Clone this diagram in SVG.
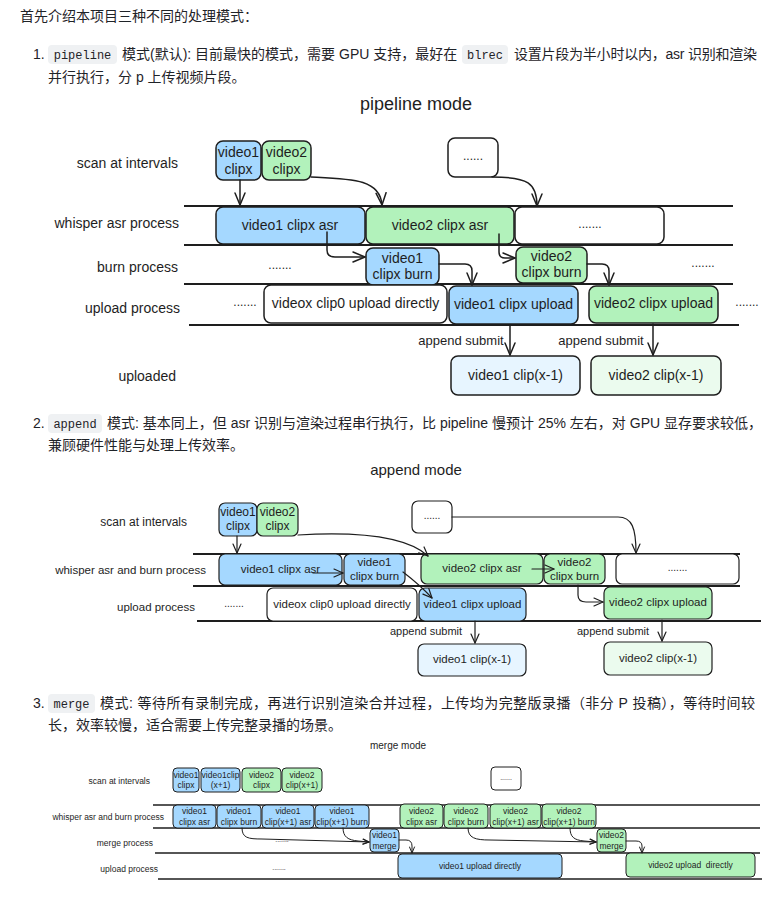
<svg xmlns="http://www.w3.org/2000/svg" width="781" height="898" viewBox="0 0 781 898">
<defs>
<style>
.body{font-family:"Liberation Sans","Noto Sans CJK SC",sans-serif;font-size:14px;fill:#1f2328}
.code{font-family:"Liberation Mono",monospace;font-size:12px;fill:#1f2328;text-anchor:middle}
.pill{fill:#eff1f3}
.t{font-family:"Liberation Sans",sans-serif;fill:#1e1e1e;text-anchor:middle;dominant-baseline:central}
.lbl{text-anchor:end}
.fp{font-size:14px}.fa{font-size:11.5px}.fm{font-size:8.5px}
.dots{font-size:12px}
.blue{fill:#a5d8ff}.green{fill:#b2f2bb}.white{fill:#fff}.lblue{fill:#e7f5ff}.lgreen{fill:#ebfbee}
.bp{stroke:#1e1e1e;stroke-width:1.5}.ba{stroke:#1e1e1e;stroke-width:1.2}.bm{stroke:#1e1e1e;stroke-width:1}
.lane{stroke:#1e1e1e;stroke-width:2;fill:none}.lanem{stroke:#1e1e1e;stroke-width:1.3;fill:none}
.c{fill:none;stroke:#1e1e1e;stroke-width:1.5;stroke-linecap:round}
.ca{fill:none;stroke:#1e1e1e;stroke-width:1.2;stroke-linecap:round}
.cm{fill:none;stroke:#1e1e1e;stroke-width:1;stroke-linecap:round}
</style>
<marker id="ahP" viewBox="0 0 14 12" refX="13" refY="6" markerWidth="14" markerHeight="12" markerUnits="userSpaceOnUse" orient="auto"><path d="M1,1 L13,6 L1,11" fill="none" stroke="#1e1e1e" stroke-width="1.5" stroke-linecap="round" stroke-linejoin="round"/></marker>
<marker id="ahA" viewBox="0 0 11 10" refX="10" refY="5" markerWidth="11" markerHeight="10" markerUnits="userSpaceOnUse" orient="auto"><path d="M1,1 L10,5 L1,9" fill="none" stroke="#1e1e1e" stroke-width="1.2" stroke-linecap="round" stroke-linejoin="round"/></marker>
<marker id="ahM" viewBox="0 0 8 7" refX="7" refY="3.5" markerWidth="8" markerHeight="7" markerUnits="userSpaceOnUse" orient="auto"><path d="M1,1 L7,3.5 L1,6" fill="none" stroke="#1e1e1e" stroke-width="1" stroke-linecap="round" stroke-linejoin="round"/></marker>
</defs>
<rect x="0" y="0" width="781" height="898" fill="#fff"/>

<!-- Body text -->
<g id="text-intro">
<text class="body" x="20" y="21">首先介绍本项目三种不同的处理模式：</text>
</g>
<g id="text-1">
<text class="body" x="33" y="59">1.</text>
<rect class="pill" x="48" y="45" width="69" height="19" rx="4"/>
<text class="code" x="82.5" y="58.5">pipeline</text>
<text class="body" x="122" y="59">模式(默认): 目前最快的模式，需要 GPU 支持，最好在</text>
<rect class="pill" x="462" y="45" width="46" height="19" rx="4"/>
<text class="code" x="485" y="58.5">blrec</text>
<text class="body" x="514" y="59" textLength="243" lengthAdjust="spacing">设置片段为半小时以内，asr 识别和渲染</text>
<text class="body" x="48" y="82">并行执行，分 p 上传视频片段。</text>
</g>
<g id="text-2">
<text class="body" x="33" y="428">2.</text>
<rect class="pill" x="48" y="414" width="54" height="19" rx="4"/>
<text class="code" x="75" y="427.5">append</text>
<text class="body" x="107" y="428">模式: 基本同上，但 asr 识别与渲染过程串行执行，比 pipeline 慢预计 25% 左右，对 GPU 显存要求较低，</text>
<text class="body" x="48" y="450">兼顾硬件性能与处理上传效率。</text>
</g>
<g id="text-3">
<text class="body" x="33" y="708">3.</text>
<rect class="pill" x="48" y="694" width="47" height="19" rx="4"/>
<text class="code" x="71.5" y="707.5">merge</text>
<text class="body" x="100" y="708" textLength="655" lengthAdjust="spacing">模式: 等待所有录制完成，再进行识别渲染合并过程，上传均为完整版录播（非分 P 投稿），等待时间较</text>
<text class="body" x="48" y="730">长，效率较慢，适合需要上传完整录播的场景。</text>
</g>

<!-- ================= PIPELINE MODE ================= -->
<g id="pipeline-title"><text class="t" x="416" y="104" font-size="18">pipeline mode</text></g>
<g id="pipeline-lanes">
<line class="lane" x1="184" y1="206" x2="733" y2="206"/>
<line class="lane" x1="184" y1="245" x2="733" y2="245"/>
<line class="lane" x1="184" y1="284" x2="733" y2="284"/>
<line class="lane" x1="189" y1="325" x2="739" y2="325"/>
<text class="t fp lbl" x="178" y="163">scan at intervals</text>
<text class="t fp lbl" x="179" y="223">whisper asr process</text>
<text class="t fp lbl" x="178" y="267">burn process</text>
<text class="t fp lbl" x="180" y="308">upload process</text>
<text class="t fp lbl" x="176" y="376">uploaded</text>
<text class="t dots" x="280" y="265">.......</text>
<text class="t dots" x="703" y="263">.......</text>
<text class="t dots" x="245" y="302">.......</text>
<text class="t dots" x="747" y="302">.......</text>
</g>
<g id="p-v1-clip"><rect class="bp blue" x="216" y="141" width="45" height="39" rx="7"/><text class="t fp" x="238.5" y="152">video1</text><text class="t fp" x="238.5" y="169">clipx</text></g>
<g id="p-v2-clip"><rect class="bp green" x="262" y="141" width="49" height="39" rx="7"/><text class="t fp" x="286.5" y="152">video2</text><text class="t fp" x="286.5" y="169">clipx</text></g>
<g id="p-more-clip"><rect class="bp white" x="448" y="138" width="50" height="39" rx="7"/><text class="t dots" x="473" y="156">......</text></g>
<g id="p-v1-asr"><rect class="bp blue" x="216" y="207" width="149" height="37" rx="7"/><text class="t fp" x="290" y="225">video1 clipx asr</text></g>
<g id="p-v2-asr"><rect class="bp green" x="366" y="207" width="148" height="37" rx="7"/><text class="t fp" x="440" y="225">video2 clipx asr</text></g>
<g id="p-more-asr"><rect class="bp white" x="515" y="207" width="149" height="37" rx="7"/><text class="t dots" x="590" y="224">.......</text></g>
<g id="p-v1-burn"><rect class="bp blue" x="366" y="248" width="73" height="37" rx="7"/><text class="t fp" x="402.5" y="258">video1</text><text class="t fp" x="402.5" y="274">clipx burn</text></g>
<g id="p-v2-burn"><rect class="bp green" x="516" y="247" width="71" height="36" rx="7"/><text class="t fp" x="551.5" y="256">video2</text><text class="t fp" x="551.5" y="272">clipx burn</text></g>
<g id="p-videox-upload"><rect class="bp white" x="264" y="285" width="183" height="38" rx="7"/><text class="t fp" x="355.5" y="303">videox clip0 upload directly</text></g>
<g id="p-v1-upload"><rect class="bp blue" x="449" y="286" width="129" height="38" rx="7"/><text class="t fp" x="513.5" y="304">video1 clipx upload</text></g>
<g id="p-v2-upload"><rect class="bp green" x="589" y="286" width="129" height="37" rx="7"/><text class="t fp" x="653.5" y="303">video2 clipx upload</text></g>
<g id="p-v1-uploaded"><rect class="bp lblue" x="451" y="356" width="129" height="39" rx="7"/><text class="t fp" x="515.5" y="375">video1 clip(x-1)</text></g>
<g id="p-v2-uploaded"><rect class="bp lgreen" x="591" y="356" width="130" height="39" rx="7"/><text class="t fp" x="656" y="375">video2 clip(x-1)</text></g>
<g id="pipeline-connectors">
<path class="c" d="M240,180 L240,205" marker-end="url(#ahP)"/>
<path class="c" d="M311,177 C352,179 380,179 382,205" marker-end="url(#ahP)"/>
<path class="c" d="M492,177 C528,177 537,183 537,206" marker-end="url(#ahP)"/>
<path class="c" d="M327,232 L327,250 Q327,257 335,257 L365,257" marker-end="url(#ahP)"/>
<path class="c" d="M499,234 L499,252 Q499,258 505,258 L515,258" marker-end="url(#ahP)"/>
<path class="c" d="M439,264 L465,264 Q472,264 472,271 L472,285" marker-end="url(#ahP)"/>
<path class="c" d="M587,264 L602,264 Q609,264 609,271 L609,285" marker-end="url(#ahP)"/>
<path class="c" d="M510,325 L510,355" marker-end="url(#ahP)"/>
<path class="c" d="M653,324 L653,355" marker-end="url(#ahP)"/>
<text class="t" font-size="13" x="461" y="340">append submit</text>
<text class="t" font-size="13" x="601" y="340">append submit</text>
</g>

<!-- ================= APPEND MODE ================= -->
<g id="append-title"><text class="t" x="416" y="469" font-size="15">append mode</text></g>
<g id="append-lanes">
<line class="lane" x1="193" y1="554" x2="740" y2="554"/>
<line class="lane" x1="193" y1="586" x2="740" y2="586"/>
<line class="lane" x1="197" y1="621" x2="761" y2="621"/>
<text class="t lbl" font-size="12" x="187" y="522">scan at intervals</text>
<text class="t fa lbl" x="206" y="570">whisper asr and burn process</text>
<text class="t fa lbl" x="195" y="607">upload process</text>
<text class="t" font-size="10" x="234" y="603">.......</text>
</g>
<g id="a-v1-clip"><rect class="ba blue" x="219" y="503" width="38" height="33" rx="6"/><text class="t" font-size="12" x="238" y="512">video1</text><text class="t" font-size="12" x="238" y="526">clipx</text></g>
<g id="a-v2-clip"><rect class="ba green" x="257" y="503" width="41" height="33" rx="6"/><text class="t" font-size="12" x="277.5" y="512">video2</text><text class="t" font-size="12" x="277.5" y="526">clipx</text></g>
<g id="a-more-clip"><rect class="ba white" x="412" y="501" width="40" height="32" rx="6"/><text class="t" font-size="10" x="432" y="515">......</text></g>
<g id="a-v1-asr"><rect class="ba blue" x="219" y="554" width="123" height="31" rx="6"/><text class="t fa" x="280.5" y="569">video1 clipx asr</text></g>
<g id="a-v1-burn"><rect class="ba blue" x="344" y="554" width="61" height="31" rx="6"/><text class="t fa" x="374.5" y="562">video1</text><text class="t fa" x="374.5" y="576">clipx burn</text></g>
<g id="a-v2-asr"><rect class="ba green" x="421" y="554" width="122" height="30" rx="6"/><text class="t fa" x="482" y="568">video2 clipx asr</text></g>
<g id="a-v2-burn"><rect class="ba green" x="544" y="554" width="61" height="30" rx="6"/><text class="t fa" x="574.5" y="562">video2</text><text class="t fa" x="574.5" y="576">clipx burn</text></g>
<g id="a-more-asr"><rect class="ba white" x="616" y="554" width="123" height="30" rx="6"/><text class="t" font-size="10" x="677.5" y="567">.......</text></g>
<g id="a-videox-upload"><rect class="ba white" x="267" y="588" width="150" height="33" rx="6"/><text class="t fa" x="342" y="604">videox clip0 upload directly</text></g>
<g id="a-v1-upload"><rect class="ba blue" x="419" y="588" width="107" height="33" rx="6"/><text class="t fa" x="472.5" y="604">video1 clipx upload</text></g>
<g id="a-v2-upload"><rect class="ba green" x="604" y="587" width="108" height="32" rx="6"/><text class="t fa" x="658" y="602">video2 clipx upload</text></g>
<g id="a-v1-uploaded"><rect class="ba lblue" x="418" y="644" width="108" height="32" rx="6"/><text class="t fa" x="472" y="659">video1 clip(x-1)</text></g>
<g id="a-v2-uploaded"><rect class="ba lgreen" x="604" y="642" width="108" height="33" rx="6"/><text class="t fa" x="658" y="658">video2 clip(x-1)</text></g>
<g id="append-connectors">
<path class="ca" d="M237,536 L237,553" marker-end="url(#ahA)"/>
<path class="ca" d="M298,535 C350,532 405,535 428,556" marker-end="url(#ahA)"/>
<path class="ca" d="M452,517 L618,517 C632,517 636,528 636,553" marker-end="url(#ahA)"/>
<path class="ca" d="M313,573 L343,573" marker-end="url(#ahA)"/>
<path class="ca" d="M403,572 Q420,585 432,598" marker-end="url(#ahA)"/>
<path class="ca" d="M532,569 L554,569" marker-end="url(#ahA)"/>
<path class="ca" d="M578,585 L578,595 Q578,602 586,602 L603,602" marker-end="url(#ahA)"/>
<path class="ca" d="M475,621 L475,643" marker-end="url(#ahA)"/>
<path class="ca" d="M662,620 L662,641" marker-end="url(#ahA)"/>
<text class="t" font-size="11" x="426" y="631">append submit</text>
<text class="t" font-size="11" x="613" y="631">append submit</text>
</g>

<!-- ================= MERGE MODE ================= -->
<g id="merge-title"><text class="t" x="398" y="745" font-size="10">merge mode</text></g>
<g id="merge-lanes">
<line class="lanem" x1="153" y1="805" x2="760" y2="805"/>
<line class="lanem" x1="153" y1="828" x2="760" y2="828"/>
<line class="lanem" x1="155" y1="853" x2="760" y2="853"/>
<line class="lanem" x1="158" y1="879" x2="762" y2="879"/>
<text class="t fm lbl" x="150" y="781">scan at intervals</text>
<text class="t fm lbl" x="164" y="817">whisper asr and burn process</text>
<text class="t fm lbl" x="153" y="843">merge process</text>
<text class="t fm lbl" x="158" y="869">upload process</text>
<text class="t" font-size="7" x="282" y="839">.......</text>
<text class="t" font-size="7" x="279" y="867">.......</text>
</g>
<g id="m-v1-clipx"><rect class="bm blue" x="173" y="768" width="26" height="24" rx="4"/><text class="t fm" x="186" y="775">video1</text><text class="t fm" x="186" y="785">clipx</text></g>
<g id="m-v1-clipx1"><rect class="bm blue" x="201" y="768" width="39" height="24" rx="4"/><text class="t fm" x="220.5" y="775">video1clip</text><text class="t fm" x="220.5" y="785">(x+1)</text></g>
<g id="m-v2-clipx"><rect class="bm green" x="242" y="768" width="39" height="24" rx="4"/><text class="t fm" x="261.5" y="775">video2</text><text class="t fm" x="261.5" y="785">clipx</text></g>
<g id="m-v2-clipx1"><rect class="bm green" x="282" y="768" width="40" height="24" rx="4"/><text class="t fm" x="302" y="775">video2</text><text class="t fm" x="302" y="785">clip(x+1)</text></g>
<g id="m-more-clip"><rect class="bm white" x="491" y="767" width="30" height="23" rx="4"/><text class="t" font-size="7" x="506" y="777">......</text></g>
<g id="m-v1-asr"><rect class="bm blue" x="173" y="805" width="43" height="23" rx="4"/><text class="t fm" x="194.5" y="811">video1</text><text class="t fm" x="194.5" y="822">clipx asr</text></g>
<g id="m-v1-burn"><rect class="bm blue" x="217" y="805" width="44" height="23" rx="4"/><text class="t fm" x="239" y="811">video1</text><text class="t fm" x="239" y="822">clipx burn</text></g>
<g id="m-v1-asr1"><rect class="bm blue" x="262" y="805" width="52" height="23" rx="4"/><text class="t fm" x="288" y="811">video1</text><text class="t fm" x="288" y="822">clip(x+1) asr</text></g>
<g id="m-v1-burn1"><rect class="bm blue" x="315" y="805" width="54" height="23" rx="4"/><text class="t fm" x="342" y="811">video1</text><text class="t fm" x="342" y="822">clip(x+1) burn</text></g>
<g id="m-v2-asr"><rect class="bm green" x="400" y="804" width="43" height="24" rx="4"/><text class="t fm" x="421.5" y="811">video2</text><text class="t fm" x="421.5" y="822">clipx asr</text></g>
<g id="m-v2-burn"><rect class="bm green" x="444" y="804" width="44" height="24" rx="4"/><text class="t fm" x="466" y="811">video2</text><text class="t fm" x="466" y="822">clipx burn</text></g>
<g id="m-v2-asr1"><rect class="bm green" x="490" y="804" width="51" height="24" rx="4"/><text class="t fm" x="515.5" y="811">video2</text><text class="t fm" x="515.5" y="822">clip(x+1) asr</text></g>
<g id="m-v2-burn1"><rect class="bm green" x="542" y="804" width="54" height="24" rx="4"/><text class="t fm" x="569" y="811">video2</text><text class="t fm" x="569" y="822">clip(x+1) burn</text></g>
<g id="m-v1-merge"><rect class="bm blue" x="370" y="829" width="29" height="23" rx="4"/><text class="t fm" x="384.5" y="835">video1</text><text class="t fm" x="384.5" y="846">merge</text></g>
<g id="m-v2-merge"><rect class="bm green" x="597" y="829" width="29" height="23" rx="4"/><text class="t fm" x="611.5" y="835">video2</text><text class="t fm" x="611.5" y="846">merge</text></g>
<g id="m-v1-upload"><rect class="bm blue" x="398" y="854" width="164" height="24" rx="4"/><text class="t fm" x="480" y="866">video1 upload directly</text></g>
<g id="m-v2-upload"><rect class="bm green" x="626" y="853" width="129" height="24" rx="4"/><text class="t fm" x="690.5" y="865" xml:space="preserve">video2 upload  directly</text></g>
<g id="merge-connectors">
<path class="cm" d="M242,828 C242,838 248,839 262,839 L369,842" marker-end="url(#ahM)"/>
<path class="cm" d="M343,828 C343,837 348,840 358,841 L369,842" marker-end="url(#ahM)"/>
<path class="cm" d="M399,840 L406,840 Q412,840 412,846 L412,853" marker-end="url(#ahM)"/>
<path class="cm" d="M468,828 C468,838 475,840 490,840 L596,842" marker-end="url(#ahM)"/>
<path class="cm" d="M570,828 C570,837 574,840 584,841 L596,842" marker-end="url(#ahM)"/>
<path class="cm" d="M626,841 L636,841 Q642,841 642,846 L642,853" marker-end="url(#ahM)"/>
</g>
</svg>
